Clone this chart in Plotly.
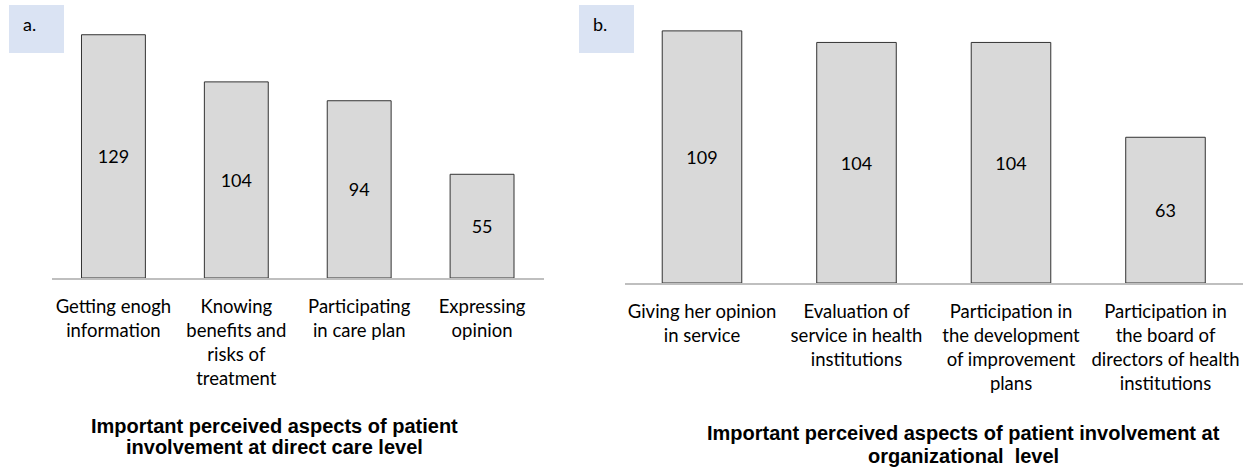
import plotly.graph_objects as go

W, H = 1249, 470

# ---- data ----
cats_a = ["Getting enogh<br>information", "Knowing<br>benefits and<br>risks of<br>treatment",
          "Participating<br>in care plan", "Expressing<br>opinion"]
vals_a = [129, 104, 94, 55]
cats_b = ["Giving her opinion<br>in service", "Evaluation of<br>service in health<br>institutions",
          "Participation in<br>the development<br>of improvement<br>plans",
          "Participation in<br>the board of<br>directors of health<br>institutions"]
vals_b = [109, 104, 104, 63]
title_a = ["Important perceived aspects of patient", "involvement at direct care level"]
title_b = ["Important perceived aspects of patient involvement at", "organizational  level"]
panel_labels = ["a.", "b."]

FONT = "Lato"
BAR_FILL = "#D9D9D9"
BAR_LINE = "#333333"

def px_x(x):
    return x / W

def px_y(y):
    return (H - y) / H

fig = go.Figure()
fig.add_trace(go.Bar(x=cats_a, y=vals_a, text=vals_a, textposition="inside",
                     insidetextanchor="middle", textangle=0,
                     textfont=dict(family=FONT, size=18, color="#000"),
                     marker=dict(color=BAR_FILL, line=dict(color=BAR_LINE, width=1)),
                     width=0.52, xaxis="x", yaxis="y", showlegend=False, hoverinfo="x+y"))
fig.add_trace(go.Bar(x=cats_b, y=vals_b, text=vals_b, textposition="inside",
                     insidetextanchor="middle", textangle=0,
                     textfont=dict(family=FONT, size=18, color="#000"),
                     marker=dict(color=BAR_FILL, line=dict(color=BAR_LINE, width=1)),
                     width=0.515, xaxis="x2", yaxis="y2", showlegend=False, hoverinfo="x+y"))

xcommon = dict(showline=True, linecolor="#BFBFBF", linewidth=1.5, showgrid=False,
               zeroline=False, ticks="", tickfont=dict(family=FONT, size=18.5, color="#000"),
               fixedrange=True, tickangle=0, ticklabelstandoff=11)
ycommon = dict(visible=False, showgrid=False, zeroline=False, fixedrange=True)

fig.update_layout(
    width=W, height=H,
    margin=dict(l=0, r=0, t=0, b=0),
    paper_bgcolor="white", plot_bgcolor="white",
    xaxis=dict(domain=[px_x(52), px_x(543.5)], anchor="y", **xcommon),
    yaxis=dict(domain=[px_y(278), px_y(14)], range=[0, 140], anchor="x", **ycommon),
    xaxis2=dict(domain=[px_x(624.75), px_x(1242.75)], anchor="y2", **xcommon),
    yaxis2=dict(domain=[px_y(283), px_y(17)], range=[0, 115], anchor="x2", **ycommon),
    bargap=0.48,
)

# panel label boxes
for lbl, x0 in zip(panel_labels, [9, 579]):
    fig.add_shape(type="rect", xref="paper", yref="paper",
                  x0=px_x(x0), x1=px_x(x0 + 55), y0=px_y(53), y1=px_y(5),
                  fillcolor="#DAE3F3", line=dict(width=0), layer="below")
    fig.add_annotation(xref="paper", yref="paper", x=px_x(x0 + 12), y=px_y(24),
                       text=lbl, showarrow=False, xanchor="left", yanchor="middle",
                       font=dict(family=FONT, size=18, color="#000"))

# titles
for lines, cx, ys in [(title_a, 274, [425.7, 447]), (title_b, 963, [433, 456])]:
    for t, y in zip(lines, ys):
        fig.add_annotation(xref="paper", yref="paper", x=px_x(cx), y=px_y(y),
                           text="<b>" + t + "</b>", showarrow=False,
                           xanchor="center", yanchor="middle",
                           font=dict(family="Liberation Sans, Arial", size=20, color="#000"))

fig.write_html("out.html", config={"displayModeBar": False},
               post_script="document.body.style.margin='0';")
